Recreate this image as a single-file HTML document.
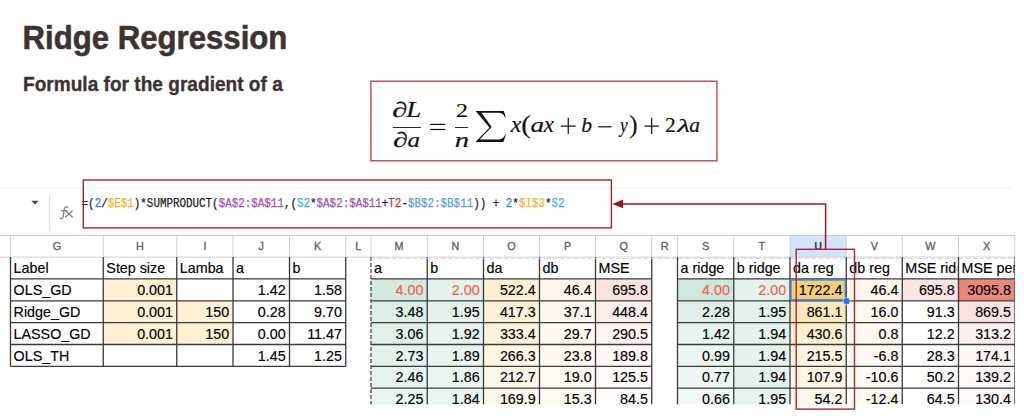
<!DOCTYPE html>
<html><head><meta charset="utf-8"><style>
html,body{margin:0;padding:0;background:#fff;width:1024px;height:416px;overflow:hidden;position:relative}

</style></head><body>
<svg width="1024" height="416" viewBox="0 0 1024 416" style="position:absolute;left:0;top:0" font-family="Liberation Sans, sans-serif">
<defs><clipPath id="sheet"><rect x="0" y="0" width="1014.75" height="404.4"/></clipPath><clipPath id="wclip"><rect x="902.25" y="250" width="55.0" height="40"/></clipPath><clipPath id="xclip"><rect x="958.5" y="250" width="56.25" height="40"/></clipPath></defs>
<text x="22.6" y="48.7" font-family="Liberation Sans" font-weight="bold" font-size="33.6" fill="#3b3431" stroke="#3b3431" stroke-width="0.6" textLength="264.8" lengthAdjust="spacingAndGlyphs">Ridge Regression</text>
<text x="23" y="91.25" font-family="Liberation Sans" font-weight="bold" font-size="20.5" fill="#3b3431" stroke="#3b3431" stroke-width="0.35" textLength="259.8" lengthAdjust="spacingAndGlyphs">Formula for the gradient of a</text>
<rect x="370.9" y="81.2" width="346.0" height="79.6" fill="none" stroke="#b73a40" stroke-width="1.3"/>
<line x1="0" y1="187.8" x2="1013" y2="187.8" stroke="#eef5f4" stroke-width="1.2"/>
<path d="M31.3 200.8 L38.6 200.8 L34.95 204.6 Z" fill="#444746"/>
<line x1="49.7" y1="195" x2="49.7" y2="230" stroke="#dadce0" stroke-width="1"/>
<path d="M67.8,207.6 C66.2,206.3 64.5,207.0 64.2,209.6 L63.3,216.2 C63.0,218.4 61.7,219.2 60.3,218.4 M61.5,210.7 L66.9,210.7 M65.8,211.0 L72.3,217.0 M72.1,211.0 L65.6,217.0" fill="none" stroke="#7d8185" stroke-width="1.25" stroke-linecap="round"/>
<rect x="0" y="235.5" width="1014.75" height="21.6" fill="#ffffff"/>
<rect x="790" y="235.5" width="56.25" height="21.6" fill="#d3e3fd"/>
<line x1="0" y1="235.5" x2="1014.75" y2="235.5" stroke="#d0d0d0" stroke-width="1"/>
<line x1="0" y1="257.1" x2="1014.75" y2="257.1" stroke="#d0d0d0" stroke-width="1"/>
<line x1="10.5" y1="235.5" x2="10.5" y2="257.1" stroke="#d0d0d0" stroke-width="1"/>
<line x1="103.25" y1="235.5" x2="103.25" y2="257.1" stroke="#d0d0d0" stroke-width="1"/>
<line x1="176.75" y1="235.5" x2="176.75" y2="257.1" stroke="#d0d0d0" stroke-width="1"/>
<line x1="233" y1="235.5" x2="233" y2="257.1" stroke="#d0d0d0" stroke-width="1"/>
<line x1="289.5" y1="235.5" x2="289.5" y2="257.1" stroke="#d0d0d0" stroke-width="1"/>
<line x1="345.75" y1="235.5" x2="345.75" y2="257.1" stroke="#d0d0d0" stroke-width="1"/>
<line x1="371" y1="235.5" x2="371" y2="257.1" stroke="#d0d0d0" stroke-width="1"/>
<line x1="427.25" y1="235.5" x2="427.25" y2="257.1" stroke="#d0d0d0" stroke-width="1"/>
<line x1="483.5" y1="235.5" x2="483.5" y2="257.1" stroke="#d0d0d0" stroke-width="1"/>
<line x1="539.5" y1="235.5" x2="539.5" y2="257.1" stroke="#d0d0d0" stroke-width="1"/>
<line x1="595.5" y1="235.5" x2="595.5" y2="257.1" stroke="#d0d0d0" stroke-width="1"/>
<line x1="651.75" y1="235.5" x2="651.75" y2="257.1" stroke="#d0d0d0" stroke-width="1"/>
<line x1="677.5" y1="235.5" x2="677.5" y2="257.1" stroke="#d0d0d0" stroke-width="1"/>
<line x1="733.75" y1="235.5" x2="733.75" y2="257.1" stroke="#d0d0d0" stroke-width="1"/>
<line x1="790" y1="235.5" x2="790" y2="257.1" stroke="#d0d0d0" stroke-width="1"/>
<line x1="846.25" y1="235.5" x2="846.25" y2="257.1" stroke="#d0d0d0" stroke-width="1"/>
<line x1="902.25" y1="235.5" x2="902.25" y2="257.1" stroke="#d0d0d0" stroke-width="1"/>
<line x1="958.5" y1="235.5" x2="958.5" y2="257.1" stroke="#d0d0d0" stroke-width="1"/>
<line x1="1014.75" y1="235.5" x2="1014.75" y2="257.1" stroke="#d0d0d0" stroke-width="1"/>
<text x="56.88" y="250" font-family="Liberation Sans" font-size="10.8" fill="#5f6368" stroke="#5f6368" stroke-width="0.35" text-anchor="middle">G</text>
<text x="140.00" y="250" font-family="Liberation Sans" font-size="10.8" fill="#5f6368" stroke="#5f6368" stroke-width="0.35" text-anchor="middle">H</text>
<text x="204.88" y="250" font-family="Liberation Sans" font-size="10.8" fill="#5f6368" stroke="#5f6368" stroke-width="0.35" text-anchor="middle">I</text>
<text x="261.25" y="250" font-family="Liberation Sans" font-size="10.8" fill="#5f6368" stroke="#5f6368" stroke-width="0.35" text-anchor="middle">J</text>
<text x="317.62" y="250" font-family="Liberation Sans" font-size="10.8" fill="#5f6368" stroke="#5f6368" stroke-width="0.35" text-anchor="middle">K</text>
<text x="358.38" y="250" font-family="Liberation Sans" font-size="10.8" fill="#5f6368" stroke="#5f6368" stroke-width="0.35" text-anchor="middle">L</text>
<text x="399.12" y="250" font-family="Liberation Sans" font-size="10.8" fill="#5f6368" stroke="#5f6368" stroke-width="0.35" text-anchor="middle">M</text>
<text x="455.38" y="250" font-family="Liberation Sans" font-size="10.8" fill="#5f6368" stroke="#5f6368" stroke-width="0.35" text-anchor="middle">N</text>
<text x="511.50" y="250" font-family="Liberation Sans" font-size="10.8" fill="#5f6368" stroke="#5f6368" stroke-width="0.35" text-anchor="middle">O</text>
<text x="567.50" y="250" font-family="Liberation Sans" font-size="10.8" fill="#5f6368" stroke="#5f6368" stroke-width="0.35" text-anchor="middle">P</text>
<text x="623.62" y="250" font-family="Liberation Sans" font-size="10.8" fill="#5f6368" stroke="#5f6368" stroke-width="0.35" text-anchor="middle">Q</text>
<text x="664.62" y="250" font-family="Liberation Sans" font-size="10.8" fill="#5f6368" stroke="#5f6368" stroke-width="0.35" text-anchor="middle">R</text>
<text x="705.62" y="250" font-family="Liberation Sans" font-size="10.8" fill="#5f6368" stroke="#5f6368" stroke-width="0.35" text-anchor="middle">S</text>
<text x="761.88" y="250" font-family="Liberation Sans" font-size="10.8" fill="#5f6368" stroke="#5f6368" stroke-width="0.35" text-anchor="middle">T</text>
<text x="818.12" y="250" font-family="Liberation Sans" font-weight="bold" font-size="10.8" fill="#1c3766" text-anchor="middle">U</text>
<text x="874.25" y="250" font-family="Liberation Sans" font-size="10.8" fill="#5f6368" stroke="#5f6368" stroke-width="0.35" text-anchor="middle">V</text>
<text x="930.38" y="250" font-family="Liberation Sans" font-size="10.8" fill="#5f6368" stroke="#5f6368" stroke-width="0.35" text-anchor="middle">W</text>
<text x="986.62" y="250" font-family="Liberation Sans" font-size="10.8" fill="#5f6368" stroke="#5f6368" stroke-width="0.35" text-anchor="middle">X</text>
<g clip-path="url(#sheet)">
<rect x="103.25" y="278.95000000000005" width="73.5" height="21.85" fill="#fef1d4"/>
<rect x="103.25" y="300.8" width="73.5" height="21.85" fill="#fef1d4"/>
<rect x="103.25" y="322.65000000000003" width="73.5" height="21.85" fill="#fef1d4"/>
<rect x="176.75" y="300.8" width="56.25" height="21.85" fill="#fef1d4"/>
<rect x="176.75" y="322.65000000000003" width="56.25" height="21.85" fill="#fef1d4"/>
<rect x="371" y="278.95000000000005" width="56.25" height="21.85" fill="#d2eadf"/>
<rect x="427.25" y="278.95000000000005" width="56.25" height="21.85" fill="#e3f2ea"/>
<rect x="483.5" y="278.95000000000005" width="56.0" height="21.85" fill="#fdefd2"/>
<rect x="539.5" y="278.95000000000005" width="56.0" height="21.85" fill="#fef8ec"/>
<rect x="595.5" y="278.95000000000005" width="56.25" height="21.85" fill="#fbe2e2"/>
<rect x="677.5" y="278.95000000000005" width="56.25" height="21.85" fill="#cde8dc"/>
<rect x="733.75" y="278.95000000000005" width="56.25" height="21.85" fill="#e3f2eb"/>
<rect x="790" y="278.95000000000005" width="56.25" height="21.85" fill="#f9cf74"/>
<rect x="846.25" y="278.95000000000005" width="56.0" height="21.85" fill="#fef8ec"/>
<rect x="902.25" y="278.95000000000005" width="56.25" height="21.85" fill="#fce3e3"/>
<rect x="958.5" y="278.95000000000005" width="56.25" height="21.85" fill="#ea877d"/>
<rect x="371" y="300.8" width="56.25" height="21.85" fill="#dbefe5"/>
<rect x="427.25" y="300.8" width="56.25" height="21.85" fill="#e5f3ec"/>
<rect x="483.5" y="300.8" width="56.0" height="21.85" fill="#fdf1d7"/>
<rect x="539.5" y="300.8" width="56.0" height="21.85" fill="#fef9ef"/>
<rect x="595.5" y="300.8" width="56.25" height="21.85" fill="#fcefee"/>
<rect x="677.5" y="300.8" width="56.25" height="21.85" fill="#e0f0e8"/>
<rect x="733.75" y="300.8" width="56.25" height="21.85" fill="#e4f2eb"/>
<rect x="790" y="300.8" width="56.25" height="21.85" fill="#fde8ba"/>
<rect x="846.25" y="300.8" width="56.0" height="21.85" fill="#fef9ef"/>
<rect x="902.25" y="300.8" width="56.25" height="21.85" fill="#ffffff"/>
<rect x="958.5" y="300.8" width="56.25" height="21.85" fill="#fae2e0"/>
<rect x="371" y="322.65000000000003" width="56.25" height="21.85" fill="#dff1e8"/>
<rect x="427.25" y="322.65000000000003" width="56.25" height="21.85" fill="#e6f4ed"/>
<rect x="483.5" y="322.65000000000003" width="56.0" height="21.85" fill="#fdf3dd"/>
<rect x="539.5" y="322.65000000000003" width="56.0" height="21.85" fill="#fef9f0"/>
<rect x="595.5" y="322.65000000000003" width="56.25" height="21.85" fill="#fdf4f3"/>
<rect x="677.5" y="322.65000000000003" width="56.25" height="21.85" fill="#e7f4ee"/>
<rect x="733.75" y="322.65000000000003" width="56.25" height="21.85" fill="#e6f3ed"/>
<rect x="790" y="322.65000000000003" width="56.25" height="21.85" fill="#fdf0d2"/>
<rect x="846.25" y="322.65000000000003" width="56.0" height="21.85" fill="#fef9f1"/>
<rect x="902.25" y="322.65000000000003" width="56.25" height="21.85" fill="#ffffff"/>
<rect x="958.5" y="322.65000000000003" width="56.25" height="21.85" fill="#fdf1f0"/>
<rect x="371" y="344.5" width="56.25" height="21.85" fill="#e3f2eb"/>
<rect x="427.25" y="344.5" width="56.25" height="21.85" fill="#e8f5ee"/>
<rect x="483.5" y="344.5" width="56.0" height="21.85" fill="#fef5e3"/>
<rect x="539.5" y="344.5" width="56.0" height="21.85" fill="#fefaf2"/>
<rect x="595.5" y="344.5" width="56.25" height="21.85" fill="#fef8f7"/>
<rect x="677.5" y="344.5" width="56.25" height="21.85" fill="#ecf6f1"/>
<rect x="733.75" y="344.5" width="56.25" height="21.85" fill="#e6f3ed"/>
<rect x="790" y="344.5" width="56.25" height="21.85" fill="#fef4df"/>
<rect x="846.25" y="344.5" width="56.0" height="21.85" fill="#fefaf3"/>
<rect x="902.25" y="344.5" width="56.25" height="21.85" fill="#ffffff"/>
<rect x="958.5" y="344.5" width="56.25" height="21.85" fill="#fef7f6"/>
<rect x="371" y="366.35" width="56.25" height="21.85" fill="#e6f4ed"/>
<rect x="427.25" y="366.35" width="56.25" height="21.85" fill="#e9f5ef"/>
<rect x="483.5" y="366.35" width="56.0" height="21.85" fill="#fef7e8"/>
<rect x="539.5" y="366.35" width="56.0" height="21.85" fill="#fefbf4"/>
<rect x="595.5" y="366.35" width="56.25" height="21.85" fill="#fffafa"/>
<rect x="677.5" y="366.35" width="56.25" height="21.85" fill="#eef7f3"/>
<rect x="733.75" y="366.35" width="56.25" height="21.85" fill="#e6f3ed"/>
<rect x="790" y="366.35" width="56.25" height="21.85" fill="#fef6e6"/>
<rect x="846.25" y="366.35" width="56.0" height="21.85" fill="#fefbf4"/>
<rect x="902.25" y="366.35" width="56.25" height="21.85" fill="#ffffff"/>
<rect x="958.5" y="366.35" width="56.25" height="21.85" fill="#fff9f9"/>
<rect x="371" y="388.20000000000005" width="56.25" height="21.85" fill="#e9f5ef"/>
<rect x="427.25" y="388.20000000000005" width="56.25" height="21.85" fill="#ebf6f1"/>
<rect x="483.5" y="388.20000000000005" width="56.0" height="21.85" fill="#fef8eb"/>
<rect x="539.5" y="388.20000000000005" width="56.0" height="21.85" fill="#fefbf5"/>
<rect x="595.5" y="388.20000000000005" width="56.25" height="21.85" fill="#fffcfc"/>
<rect x="677.5" y="388.20000000000005" width="56.25" height="21.85" fill="#f0f8f4"/>
<rect x="733.75" y="388.20000000000005" width="56.25" height="21.85" fill="#e7f4ee"/>
<rect x="790" y="388.20000000000005" width="56.25" height="21.85" fill="#fef8ec"/>
<rect x="846.25" y="388.20000000000005" width="56.0" height="21.85" fill="#fefbf5"/>
<rect x="902.25" y="388.20000000000005" width="56.25" height="21.85" fill="#ffffff"/>
<rect x="958.5" y="388.20000000000005" width="56.25" height="21.85" fill="#fffafa"/>
<g font-size="14.3" stroke-width="0.15">
<text x="13.60" y="273.15" fill="#000" stroke="#000">Label</text>
<text x="106.35" y="273.15" fill="#000" stroke="#000">Step size</text>
<text x="179.85" y="273.15" fill="#000" stroke="#000">Lamba</text>
<text x="236.10" y="273.15" fill="#000" stroke="#000">a</text>
<text x="292.60" y="273.15" fill="#000" stroke="#000">b</text>
<text x="13.60" y="295.00" fill="#000" stroke="#000">OLS_GD</text>
<text x="172.95" y="295.00" fill="#000" stroke="#000" text-anchor="end">0.001</text>
<text x="285.70" y="295.00" fill="#000" stroke="#000" text-anchor="end">1.42</text>
<text x="341.95" y="295.00" fill="#000" stroke="#000" text-anchor="end">1.58</text>
<text x="13.60" y="316.85" fill="#000" stroke="#000">Ridge_GD</text>
<text x="172.95" y="316.85" fill="#000" stroke="#000" text-anchor="end">0.001</text>
<text x="229.20" y="316.85" fill="#000" stroke="#000" text-anchor="end">150</text>
<text x="285.70" y="316.85" fill="#000" stroke="#000" text-anchor="end">0.28</text>
<text x="341.95" y="316.85" fill="#000" stroke="#000" text-anchor="end">9.70</text>
<text x="13.60" y="338.70" fill="#000" stroke="#000">LASSO_GD</text>
<text x="172.95" y="338.70" fill="#000" stroke="#000" text-anchor="end">0.001</text>
<text x="229.20" y="338.70" fill="#000" stroke="#000" text-anchor="end">150</text>
<text x="285.70" y="338.70" fill="#000" stroke="#000" text-anchor="end">0.00</text>
<text x="341.95" y="338.70" fill="#000" stroke="#000" text-anchor="end">11.47</text>
<text x="13.60" y="360.55" fill="#000" stroke="#000">OLS_TH</text>
<text x="285.70" y="360.55" fill="#000" stroke="#000" text-anchor="end">1.45</text>
<text x="341.95" y="360.55" fill="#000" stroke="#000" text-anchor="end">1.25</text>
<text x="374.10" y="273.15" fill="#000" stroke="#000">a</text>
<text x="430.35" y="273.15" fill="#000" stroke="#000">b</text>
<text x="486.60" y="273.15" fill="#000" stroke="#000">da</text>
<text x="542.60" y="273.15" fill="#000" stroke="#000">db</text>
<text x="598.60" y="273.15" fill="#000" stroke="#000">MSE</text>
<text x="423.45" y="295.00" fill="#f05f4a" stroke="#f05f4a" text-anchor="end">4.00</text>
<text x="479.70" y="295.00" fill="#f05f4a" stroke="#f05f4a" text-anchor="end">2.00</text>
<text x="535.70" y="295.00" fill="#000" stroke="#000" text-anchor="end">522.4</text>
<text x="591.70" y="295.00" fill="#000" stroke="#000" text-anchor="end">46.4</text>
<text x="647.95" y="295.00" fill="#000" stroke="#000" text-anchor="end">695.8</text>
<text x="423.45" y="316.85" fill="#000" stroke="#000" text-anchor="end">3.48</text>
<text x="479.70" y="316.85" fill="#000" stroke="#000" text-anchor="end">1.95</text>
<text x="535.70" y="316.85" fill="#000" stroke="#000" text-anchor="end">417.3</text>
<text x="591.70" y="316.85" fill="#000" stroke="#000" text-anchor="end">37.1</text>
<text x="647.95" y="316.85" fill="#000" stroke="#000" text-anchor="end">448.4</text>
<text x="423.45" y="338.70" fill="#000" stroke="#000" text-anchor="end">3.06</text>
<text x="479.70" y="338.70" fill="#000" stroke="#000" text-anchor="end">1.92</text>
<text x="535.70" y="338.70" fill="#000" stroke="#000" text-anchor="end">333.4</text>
<text x="591.70" y="338.70" fill="#000" stroke="#000" text-anchor="end">29.7</text>
<text x="647.95" y="338.70" fill="#000" stroke="#000" text-anchor="end">290.5</text>
<text x="423.45" y="360.55" fill="#000" stroke="#000" text-anchor="end">2.73</text>
<text x="479.70" y="360.55" fill="#000" stroke="#000" text-anchor="end">1.89</text>
<text x="535.70" y="360.55" fill="#000" stroke="#000" text-anchor="end">266.3</text>
<text x="591.70" y="360.55" fill="#000" stroke="#000" text-anchor="end">23.8</text>
<text x="647.95" y="360.55" fill="#000" stroke="#000" text-anchor="end">189.8</text>
<text x="423.45" y="382.40" fill="#000" stroke="#000" text-anchor="end">2.46</text>
<text x="479.70" y="382.40" fill="#000" stroke="#000" text-anchor="end">1.86</text>
<text x="535.70" y="382.40" fill="#000" stroke="#000" text-anchor="end">212.7</text>
<text x="591.70" y="382.40" fill="#000" stroke="#000" text-anchor="end">19.0</text>
<text x="647.95" y="382.40" fill="#000" stroke="#000" text-anchor="end">125.5</text>
<text x="423.45" y="404.25" fill="#000" stroke="#000" text-anchor="end">2.25</text>
<text x="479.70" y="404.25" fill="#000" stroke="#000" text-anchor="end">1.84</text>
<text x="535.70" y="404.25" fill="#000" stroke="#000" text-anchor="end">169.9</text>
<text x="591.70" y="404.25" fill="#000" stroke="#000" text-anchor="end">15.3</text>
<text x="647.95" y="404.25" fill="#000" stroke="#000" text-anchor="end">84.5</text>
<text x="680.60" y="273.15" fill="#000" stroke="#000">a ridge</text>
<text x="736.85" y="273.15" fill="#000" stroke="#000">b ridge</text>
<text x="793.10" y="273.15" fill="#000" stroke="#000">da reg</text>
<text x="849.35" y="273.15" fill="#000" stroke="#000">db reg</text>
<g clip-path="url(#wclip)">
<text x="905.35" y="273.15" fill="#000" stroke="#000">MSE ridge</text>
</g>
<g clip-path="url(#xclip)">
<text x="961.60" y="273.15" fill="#000" stroke="#000">MSE penalty</text>
</g>
<text x="729.95" y="295.00" fill="#f05f4a" stroke="#f05f4a" text-anchor="end">4.00</text>
<text x="786.20" y="295.00" fill="#f05f4a" stroke="#f05f4a" text-anchor="end">2.00</text>
<text x="842.45" y="295.00" fill="#000" stroke="#000" text-anchor="end">1722.4</text>
<text x="898.45" y="295.00" fill="#000" stroke="#000" text-anchor="end">46.4</text>
<text x="954.70" y="295.00" fill="#000" stroke="#000" text-anchor="end">695.8</text>
<text x="1010.95" y="295.00" fill="#000" stroke="#000" text-anchor="end">3095.8</text>
<text x="729.95" y="316.85" fill="#000" stroke="#000" text-anchor="end">2.28</text>
<text x="786.20" y="316.85" fill="#000" stroke="#000" text-anchor="end">1.95</text>
<text x="842.45" y="316.85" fill="#000" stroke="#000" text-anchor="end">861.1</text>
<text x="898.45" y="316.85" fill="#000" stroke="#000" text-anchor="end">16.0</text>
<text x="954.70" y="316.85" fill="#000" stroke="#000" text-anchor="end">91.3</text>
<text x="1010.95" y="316.85" fill="#000" stroke="#000" text-anchor="end">869.5</text>
<text x="729.95" y="338.70" fill="#000" stroke="#000" text-anchor="end">1.42</text>
<text x="786.20" y="338.70" fill="#000" stroke="#000" text-anchor="end">1.94</text>
<text x="842.45" y="338.70" fill="#000" stroke="#000" text-anchor="end">430.6</text>
<text x="898.45" y="338.70" fill="#000" stroke="#000" text-anchor="end">0.8</text>
<text x="954.70" y="338.70" fill="#000" stroke="#000" text-anchor="end">12.2</text>
<text x="1010.95" y="338.70" fill="#000" stroke="#000" text-anchor="end">313.2</text>
<text x="729.95" y="360.55" fill="#000" stroke="#000" text-anchor="end">0.99</text>
<text x="786.20" y="360.55" fill="#000" stroke="#000" text-anchor="end">1.94</text>
<text x="842.45" y="360.55" fill="#000" stroke="#000" text-anchor="end">215.5</text>
<text x="898.45" y="360.55" fill="#000" stroke="#000" text-anchor="end">-6.8</text>
<text x="954.70" y="360.55" fill="#000" stroke="#000" text-anchor="end">28.3</text>
<text x="1010.95" y="360.55" fill="#000" stroke="#000" text-anchor="end">174.1</text>
<text x="729.95" y="382.40" fill="#000" stroke="#000" text-anchor="end">0.77</text>
<text x="786.20" y="382.40" fill="#000" stroke="#000" text-anchor="end">1.94</text>
<text x="842.45" y="382.40" fill="#000" stroke="#000" text-anchor="end">107.9</text>
<text x="898.45" y="382.40" fill="#000" stroke="#000" text-anchor="end">-10.6</text>
<text x="954.70" y="382.40" fill="#000" stroke="#000" text-anchor="end">50.2</text>
<text x="1010.95" y="382.40" fill="#000" stroke="#000" text-anchor="end">139.2</text>
<text x="729.95" y="404.25" fill="#000" stroke="#000" text-anchor="end">0.66</text>
<text x="786.20" y="404.25" fill="#000" stroke="#000" text-anchor="end">1.95</text>
<text x="842.45" y="404.25" fill="#000" stroke="#000" text-anchor="end">54.2</text>
<text x="898.45" y="404.25" fill="#000" stroke="#000" text-anchor="end">-12.4</text>
<text x="954.70" y="404.25" fill="#000" stroke="#000" text-anchor="end">64.5</text>
<text x="1010.95" y="404.25" fill="#000" stroke="#000" text-anchor="end">130.4</text>
</g>
<line x1="10.5" y1="278.95000000000005" x2="345.75" y2="278.95000000000005" stroke="#3a3a3a" stroke-width="1.3"/>
<line x1="10.5" y1="300.8" x2="345.75" y2="300.8" stroke="#3a3a3a" stroke-width="1.3"/>
<line x1="10.5" y1="322.65000000000003" x2="345.75" y2="322.65000000000003" stroke="#3a3a3a" stroke-width="1.3"/>
<line x1="10.5" y1="344.5" x2="345.75" y2="344.5" stroke="#3a3a3a" stroke-width="1.3"/>
<line x1="10.5" y1="366.35" x2="345.75" y2="366.35" stroke="#3a3a3a" stroke-width="1.3"/>
<line x1="10.5" y1="257.1" x2="10.5" y2="366.35" stroke="#3a3a3a" stroke-width="1.3"/>
<line x1="103.25" y1="257.1" x2="103.25" y2="366.35" stroke="#3a3a3a" stroke-width="1.3"/>
<line x1="176.75" y1="257.1" x2="176.75" y2="366.35" stroke="#3a3a3a" stroke-width="1.3"/>
<line x1="233" y1="257.1" x2="233" y2="366.35" stroke="#3a3a3a" stroke-width="1.3"/>
<line x1="289.5" y1="257.1" x2="289.5" y2="366.35" stroke="#3a3a3a" stroke-width="1.3"/>
<line x1="345.75" y1="257.1" x2="345.75" y2="366.35" stroke="#3a3a3a" stroke-width="1.3"/>
<line x1="371" y1="278.95000000000005" x2="651.75" y2="278.95000000000005" stroke="#3a3a3a" stroke-width="1.3"/>
<line x1="371" y1="300.8" x2="651.75" y2="300.8" stroke="#3a3a3a" stroke-width="1.3"/>
<line x1="371" y1="322.65000000000003" x2="651.75" y2="322.65000000000003" stroke="#3a3a3a" stroke-width="1.3"/>
<line x1="371" y1="344.5" x2="651.75" y2="344.5" stroke="#3a3a3a" stroke-width="1.3"/>
<line x1="371" y1="366.35" x2="651.75" y2="366.35" stroke="#3a3a3a" stroke-width="1.3"/>
<line x1="371" y1="388.20000000000005" x2="651.75" y2="388.20000000000005" stroke="#3a3a3a" stroke-width="1.3"/>
<line x1="371" y1="410.05000000000007" x2="651.75" y2="410.05000000000007" stroke="#3a3a3a" stroke-width="1.3"/>
<line x1="427.25" y1="257.1" x2="427.25" y2="404.4" stroke="#3a3a3a" stroke-width="1.3"/>
<line x1="483.5" y1="257.1" x2="483.5" y2="404.4" stroke="#3a3a3a" stroke-width="1.3"/>
<line x1="539.5" y1="257.1" x2="539.5" y2="404.4" stroke="#3a3a3a" stroke-width="1.3"/>
<line x1="595.5" y1="257.1" x2="595.5" y2="404.4" stroke="#3a3a3a" stroke-width="1.3"/>
<line x1="651.75" y1="257.1" x2="651.75" y2="404.4" stroke="#3a3a3a" stroke-width="1.3"/>
<line x1="677.5" y1="278.95000000000005" x2="1014.75" y2="278.95000000000005" stroke="#3a3a3a" stroke-width="1.3"/>
<line x1="677.5" y1="300.8" x2="1014.75" y2="300.8" stroke="#3a3a3a" stroke-width="1.3"/>
<line x1="677.5" y1="322.65000000000003" x2="1014.75" y2="322.65000000000003" stroke="#3a3a3a" stroke-width="1.3"/>
<line x1="677.5" y1="344.5" x2="1014.75" y2="344.5" stroke="#3a3a3a" stroke-width="1.3"/>
<line x1="677.5" y1="366.35" x2="1014.75" y2="366.35" stroke="#3a3a3a" stroke-width="1.3"/>
<line x1="677.5" y1="388.20000000000005" x2="1014.75" y2="388.20000000000005" stroke="#3a3a3a" stroke-width="1.3"/>
<line x1="677.5" y1="410.05000000000007" x2="1014.75" y2="410.05000000000007" stroke="#3a3a3a" stroke-width="1.3"/>
<line x1="677.5" y1="257.1" x2="677.5" y2="404.4" stroke="#3a3a3a" stroke-width="1.3"/>
<line x1="733.75" y1="257.1" x2="733.75" y2="404.4" stroke="#3a3a3a" stroke-width="1.3"/>
<line x1="790" y1="257.1" x2="790" y2="404.4" stroke="#3a3a3a" stroke-width="1.3"/>
<line x1="846.25" y1="257.1" x2="846.25" y2="404.4" stroke="#3a3a3a" stroke-width="1.3"/>
<line x1="902.25" y1="257.1" x2="902.25" y2="404.4" stroke="#3a3a3a" stroke-width="1.3"/>
<line x1="958.5" y1="257.1" x2="958.5" y2="404.4" stroke="#3a3a3a" stroke-width="1.3"/>
<line x1="1014.75" y1="257.1" x2="1014.75" y2="404.4" stroke="#3a3a3a" stroke-width="1.3"/>
<line x1="371" y1="257.1" x2="371" y2="404.4" stroke="#444" stroke-width="1.3" stroke-dasharray="4 2"/>
<line x1="371" y1="258.40000000000003" x2="1014.75" y2="258.40000000000003" stroke="#d8d8d8" stroke-width="1" stroke-dasharray="4 3"/>
</g>
<text x="81.6" y="206.8" font-family="Liberation Mono" font-size="12.6" textLength="483.00" lengthAdjust="spacingAndGlyphs" stroke-width="0.25" xml:space="preserve"><tspan fill="#202124" stroke="#202124">=(</tspan><tspan fill="#2f7ee6" stroke="#2f7ee6">2</tspan><tspan fill="#202124" stroke="#202124">/</tspan><tspan fill="#f2b332" stroke="#f2b332">$E$1</tspan><tspan fill="#202124" stroke="#202124">)*SUMPRODUCT(</tspan><tspan fill="#a153b5" stroke="#a153b5">$A$2:$A$11</tspan><tspan fill="#202124" stroke="#202124">,(</tspan><tspan fill="#2eb4da" stroke="#2eb4da">S2</tspan><tspan fill="#202124" stroke="#202124">*</tspan><tspan fill="#a153b5" stroke="#a153b5">$A$2:$A$11</tspan><tspan fill="#202124" stroke="#202124">+</tspan><tspan fill="#c0393f" stroke="#c0393f">T2</tspan><tspan fill="#202124" stroke="#202124">-</tspan><tspan fill="#5b9df0" stroke="#5b9df0">$B$2:$B$11</tspan><tspan fill="#202124" stroke="#202124">))&#160;+&#160;</tspan><tspan fill="#2f7ee6" stroke="#2f7ee6">2</tspan><tspan fill="#202124" stroke="#202124">*</tspan><tspan fill="#f2b332" stroke="#f2b332">$I$3</tspan><tspan fill="#202124" stroke="#202124">*</tspan><tspan fill="#2eb4da" stroke="#2eb4da">S2</tspan></text>
<rect x="83.3" y="180" width="528.1" height="47.9" fill="none" stroke="#ab1d25" stroke-width="1.35"/>
<polyline points="825.6,249.3 825.6,203.9 622,203.9" fill="none" stroke="#a3161f" stroke-width="1.5"/>
<path d="M612.2 203.9 L623 199.6 L623 208.2 Z" fill="#a3161f"/>
<rect x="790.9" y="279.85" width="54.45" height="20.05" fill="none" stroke="#3b84ee" stroke-width="1.6"/>
<circle cx="846.6" cy="301.1" r="3.7" fill="#2a77e8" stroke="#fff" stroke-width="0.6"/>
<rect x="796.2" y="249.3" width="58.3" height="159.8" fill="none" stroke="#b0242c" stroke-width="1.4"/>
<g fill="#111">
<text transform="translate(391.92,117.08) scale(1.458,1)" font-family="Liberation Serif" font-style="italic" font-size="21.22" stroke="#111" stroke-width="0.18">∂</text>
<text transform="translate(406.27,117.40) scale(1.174,1)" font-family="Liberation Serif" font-style="italic" font-size="22.92" stroke="#111" stroke-width="0.18">L</text>
<text transform="translate(392.96,147.18) scale(1.411,1)" font-family="Liberation Serif" font-style="italic" font-size="21.09" stroke="#111" stroke-width="0.18">∂</text>
<text transform="translate(407.45,147.29) scale(1.182,1)" font-family="Liberation Serif" font-style="italic" font-size="21.25" stroke="#111" stroke-width="0.18">a</text>
<text transform="translate(455.92,117.40) scale(1.277,1)" font-family="Liberation Serif" font-style="normal" font-size="18.79" stroke="#111" stroke-width="0.18">2</text>
<text transform="translate(454.80,147.31) scale(1.322,1)" font-family="Liberation Serif" font-style="italic" font-size="21.72" stroke="#111" stroke-width="0.18">n</text>
<text transform="translate(510.64,131.90) scale(1.073,1)" font-family="Liberation Serif" font-style="italic" font-size="22.42" stroke="#111" stroke-width="0.18">x</text>
<text transform="translate(521.31,132.67) scale(1.171,1)" font-family="Liberation Serif" font-style="normal" font-size="24.44" stroke="#111" stroke-width="0.18">(</text>
<text transform="translate(530.58,131.69) scale(1.280,1)" font-family="Liberation Serif" font-style="italic" font-size="21.25" stroke="#111" stroke-width="0.18">a</text>
<text transform="translate(543.83,131.90) scale(1.022,1)" font-family="Liberation Serif" font-style="italic" font-size="22.42" stroke="#111" stroke-width="0.18">x</text>
<text transform="translate(581.23,131.79) scale(1.030,1)" font-family="Liberation Serif" font-style="italic" font-size="21.00" stroke="#111" stroke-width="0.18">b</text>
<text transform="translate(620.08,132.17) scale(0.861,1)" font-family="Liberation Serif" font-style="italic" font-size="20.15" stroke="#111" stroke-width="0.18">y</text>
<text transform="translate(629.15,132.67) scale(1.023,1)" font-family="Liberation Serif" font-style="normal" font-size="24.44" stroke="#111" stroke-width="0.18">)</text>
<text transform="translate(664.93,132.20) scale(1.051,1)" font-family="Liberation Serif" font-style="normal" font-size="20.45" stroke="#111" stroke-width="0.18">2</text>
<text transform="translate(677.34,132.00) scale(1.504,1)" font-family="Liberation Serif" font-style="italic" font-size="19.71" stroke="#111" stroke-width="0.18">λ</text>
<text transform="translate(689.36,131.69) scale(1.007,1)" font-family="Liberation Serif" font-style="italic" font-size="21.25" stroke="#111" stroke-width="0.18">a</text>
</g>
<path d="M475.6,111.0 L503.6,111.0 C504.6,113 505.2,115 505.6,117.6 L504.9,117.6 C503.9,114.2 502.0,112.7 497.5,112.7 L481.5,112.7 L491.6,126.9 L479.6,139.4 L499.0,139.4 C502.2,139.4 504.2,137.6 505.3,134.6 L506.0,134.6 L503.4,142.1 L475.9,142.1 L475.9,141.4 L489.5,127.4 Z" fill="#111"/>
<line x1="392.8" y1="127.5" x2="420.9" y2="127.5" stroke="#111" stroke-width="0.9"/>
<line x1="455" y1="127.5" x2="468.1" y2="127.5" stroke="#111" stroke-width="0.9"/>
<line x1="430.1" y1="124.4" x2="445.3" y2="124.4" stroke="#111" stroke-width="1.2"/>
<line x1="430.1" y1="129.5" x2="445.3" y2="129.5" stroke="#111" stroke-width="1.2"/>
<line x1="560.7" y1="126.1" x2="575.8" y2="126.1" stroke="#111" stroke-width="1.2"/>
<line x1="568.25" y1="117.8" x2="568.25" y2="133.9" stroke="#111" stroke-width="1.2"/>
<line x1="598.2" y1="126.8" x2="611.6" y2="126.8" stroke="#111" stroke-width="1.2"/>
<line x1="644.4" y1="126.1" x2="658.9" y2="126.1" stroke="#111" stroke-width="1.2"/>
<line x1="651.65" y1="117.8" x2="651.65" y2="133.9" stroke="#111" stroke-width="1.2"/>
</svg>
</body></html>
